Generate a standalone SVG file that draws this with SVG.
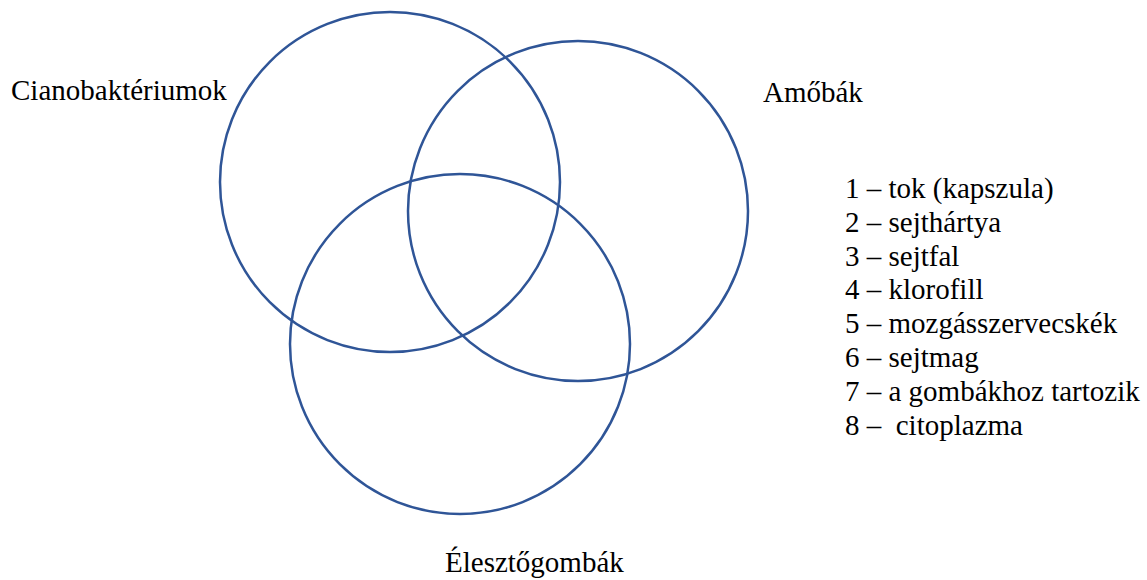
<svg xmlns="http://www.w3.org/2000/svg" width="1147" height="580" viewBox="0 0 1147 580">
<style>
.c{fill:none;stroke:#2F5597;stroke-width:2.5}
</style>
<rect width="1147" height="580" fill="#fff"/>
<g id="cianobakteriumok"><circle class="c" cx="390" cy="182" r="170"/><text font-family="Liberation Serif, serif" font-size="29" x="11" y="100">Cianobaktériumok</text></g>
<g id="amobak"><circle class="c" cx="578" cy="211" r="170"/><text font-family="Liberation Serif, serif" font-size="29" x="763" y="102">Amőbák</text></g>
<g id="elesztogombak"><circle class="c" cx="460" cy="344" r="170"/><text font-family="Liberation Serif, serif" font-size="29" x="445" y="572">Élesztőgombák</text></g>
<g id="connectors"></g>
<g id="legend" font-family="Liberation Serif, serif" font-size="29">
<text x="845" y="198">1 – tok (kapszula)</text>
<text x="845" y="231.8">2 – sejthártya</text>
<text x="845" y="265.6">3 – sejtfal</text>
<text x="845" y="299.4">4 – klorofill</text>
<text x="845" y="333.2">5 – mozgásszervecskék</text>
<text x="845" y="367">6 – sejtmag</text>
<text x="845" y="400.8">7 – a gombákhoz tartozik</text>
<text x="845" y="434.6" xml:space="preserve">8 –  citoplazma</text>
</g>
</svg>
